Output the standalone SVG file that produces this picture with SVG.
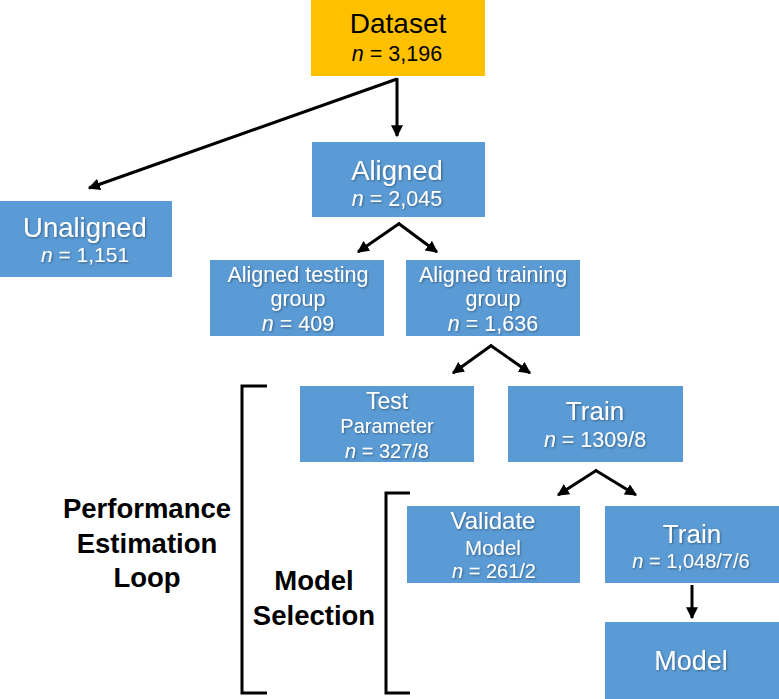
<svg xmlns="http://www.w3.org/2000/svg" width="779" height="699" viewBox="0 0 779 699">
<style>
.box{fill:#5B9BD5}
.t{font-family:"Liberation Sans",Arial,sans-serif;fill:#fff;text-anchor:middle;filter:url(#sh)}
.d{font-family:"Liberation Sans",Arial,sans-serif;fill:#000;text-anchor:middle}
.lbl{font-family:"Liberation Sans",Arial,sans-serif;font-weight:bold;fill:#000;text-anchor:middle;font-size:27.5px}
.c{stroke:#000;stroke-width:3;fill:none}
.br{stroke:#000;stroke-width:3;fill:none}
</style>
<defs>
<marker id="ah" viewBox="0 0 10 10" refX="9" refY="5" markerWidth="4" markerHeight="4" orient="auto" markerUnits="strokeWidth">
<path d="M0,0 L10,5 L0,10 z" fill="#000"/>
</marker>
<filter id="sh" x="-10%" y="-10%" width="130%" height="140%">
<feDropShadow dx="1" dy="1" stdDeviation="0.8" flood-color="#000" flood-opacity="0.4"/>
</filter>
</defs>
<g id="dataset">
<rect x="311" y="0" width="174" height="76" fill="#FFC000"/>
<text class="d" x="398" y="33" font-size="28">Dataset</text>
<text class="d" x="397" y="61" font-size="21.5"><tspan font-style="italic">n</tspan> = 3,196</text>
</g>
<g id="aligned">
<rect class="box" x="312" y="142" width="173" height="75"/>
<text class="t" x="397" y="180" font-size="27.5">Aligned</text>
<text class="t" x="397" y="206" font-size="21.5"><tspan font-style="italic">n</tspan> = 2,045</text>
</g>
<g id="unaligned">
<rect class="box" x="0" y="201" width="172" height="76"/>
<text class="t" x="85" y="237" font-size="27.5">Unaligned</text>
<text class="t" x="85" y="262" font-size="21"><tspan font-style="italic">n</tspan> = 1,151</text>
</g>
<g id="testing">
<rect class="box" x="210" y="260" width="174" height="76"/>
<text class="t" x="298" y="282" font-size="21.5">Aligned testing</text>
<text class="t" x="298" y="306" font-size="21.5">group</text>
<text class="t" x="298" y="331" font-size="21.5"><tspan font-style="italic">n</tspan> = 409</text>
</g>
<g id="training">
<rect class="box" x="406" y="260" width="174" height="76"/>
<text class="t" x="493" y="282" font-size="21.5">Aligned training</text>
<text class="t" x="493" y="306" font-size="21.5">group</text>
<text class="t" x="493" y="331" font-size="21.5"><tspan font-style="italic">n</tspan> = 1,636</text>
</g>
<g id="test">
<rect class="box" x="300" y="386" width="174" height="76"/>
<text class="t" x="387" y="409" font-size="23">Test</text>
<text class="t" x="387" y="433" font-size="20">Parameter</text>
<text class="t" x="387" y="458" font-size="20"><tspan font-style="italic">n</tspan> = 327/8</text>
</g>
<g id="train1">
<rect class="box" x="508" y="386" width="175" height="76"/>
<text class="t" x="595" y="420" font-size="26">Train</text>
<text class="t" x="595" y="447" font-size="21.5"><tspan font-style="italic">n</tspan> = 1309/8</text>
</g>
<g id="validate">
<rect class="box" x="407" y="506" width="173" height="77"/>
<text class="t" x="493" y="529" font-size="24">Validate</text>
<text class="t" x="493" y="555" font-size="20.5">Model</text>
<text class="t" x="494" y="578" font-size="20"><tspan font-style="italic">n</tspan> = 261/2</text>
</g>
<g id="train2">
<rect class="box" x="605" y="506" width="174" height="77"/>
<text class="t" x="692" y="543" font-size="26">Train</text>
<text class="t" x="691" y="568" font-size="20"><tspan font-style="italic">n</tspan> = 1,048/7/6</text>
</g>
<g id="model">
<rect class="box" x="605" y="622" width="174" height="77"/>
<text class="t" x="691" y="670" font-size="27">Model</text>
</g>
<g id="brackets">
<path class="br" d="M267,386 H242 V693 H267"/>
<path class="br" d="M410,493 H386 V693 H410"/>
<text class="lbl" x="147" y="518">Performance</text>
<text class="lbl" x="147" y="553">Estimation</text>
<text class="lbl" x="147" y="587">Loop</text>
<text class="lbl" x="314" y="590">Model</text>
<text class="lbl" x="314" y="625">Selection</text>
</g>
<g id="connectors">
<path class="c" d="M397,78 V136" marker-end="url(#ah)"/>
<path class="c" d="M397,79 L89,188" marker-end="url(#ah)"/>
<path class="c" d="M400,223 L358,252" marker-end="url(#ah)"/>
<path class="c" d="M398,223 L437,252" marker-end="url(#ah)"/>
<path class="c" d="M492,345 L453,373" marker-end="url(#ah)"/>
<path class="c" d="M490,345 L530,373" marker-end="url(#ah)"/>
<path class="c" d="M597,470 L558,495" marker-end="url(#ah)"/>
<path class="c" d="M595,470 L636,495" marker-end="url(#ah)"/>
<path class="c" d="M692,585 V618" marker-end="url(#ah)"/>
</g>
</svg>
